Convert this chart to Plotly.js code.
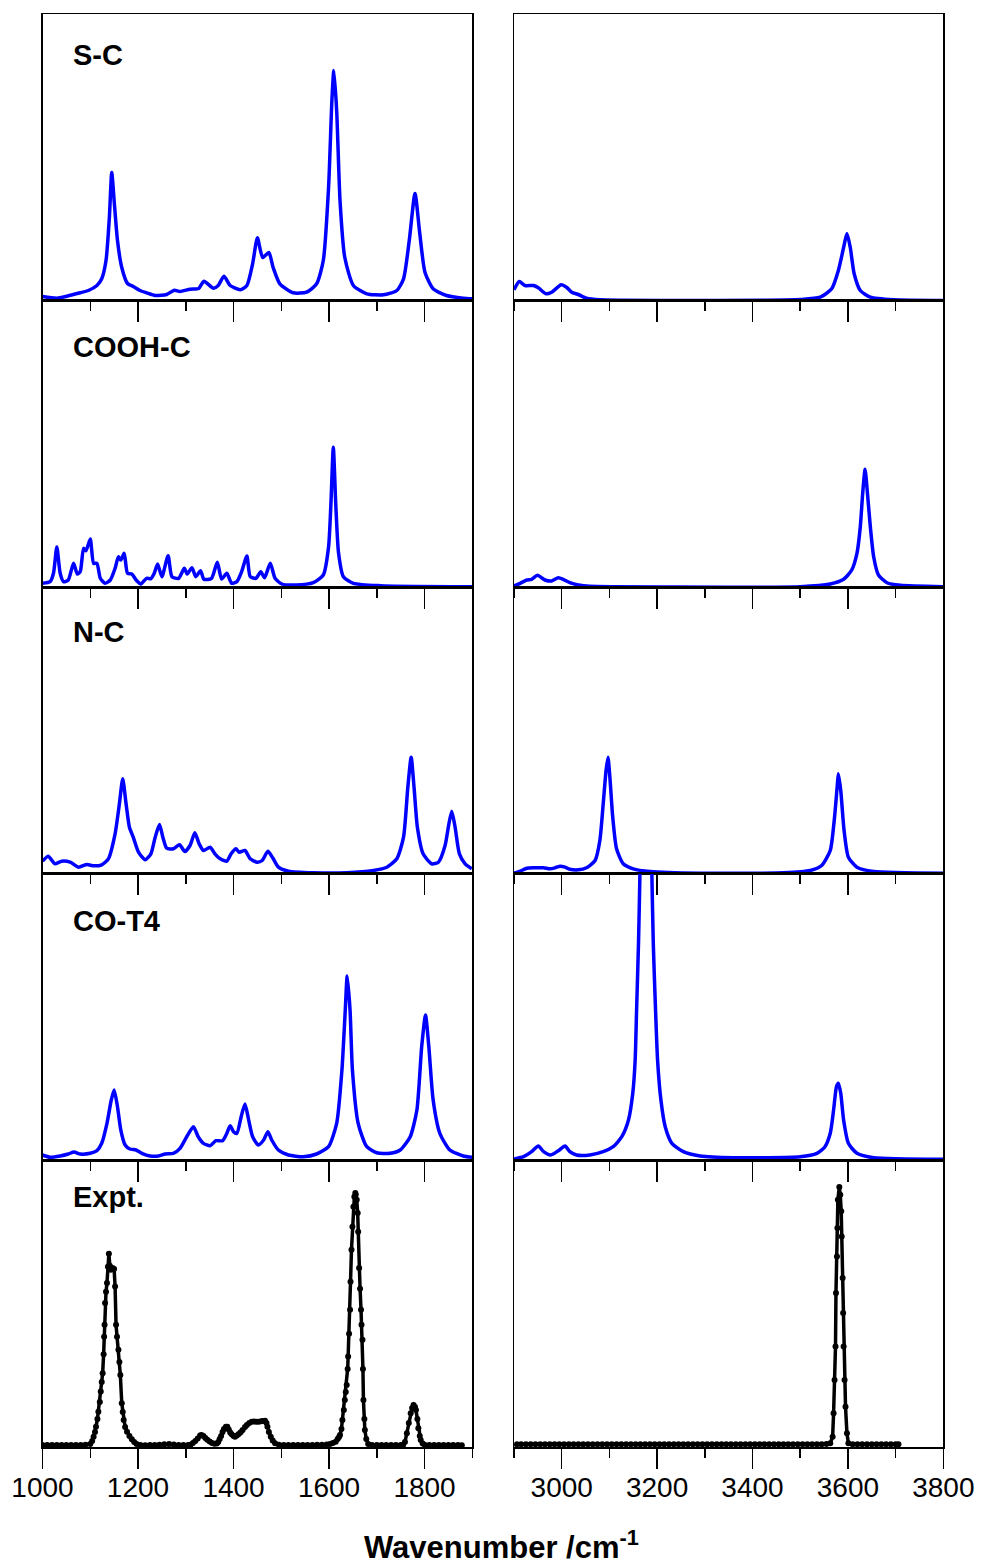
<!DOCTYPE html>
<html>
<head>
<meta charset="utf-8">
<script src="https://cdn.plot.ly/plotly-3.0.1.min.js"></script>
<style>
html,body{margin:0;padding:0;background:#fff;}
#chart{width:993px;height:1564px;}
</style>
</head>
<body>
<div id="chart"></div>
<script>
// ---------- Data (intensity in arbitrary units) ----------
const panelLabels = ["S-C", "COOH-C", "N-C", "CO-T4", "Expt."];
const leftTicks = [1000, 1200, 1400, 1600, 1800];
const rightTicks = [3000, 3200, 3400, 3600, 3800];
const axisTitle = "Wavenumber /cm<sup>-1</sup>";

// S-C
const scLeftX = [1000,1030,1051,1079,1096,1114,1124,1133,1140,1145,1150,1157,1166,1178,1190,1204,1218,1236,1260,1276,1288,1309,1327,1338,1358,1368,1380,1393,1414,1428,1440,1450,1461,1474,1483,1497,1525,1553,1574,1588,1599,1606,1610,1616,1623,1633,1651,1679,1714,1742,1756,1768,1780,1790,1801,1818,1846,1881,1900];
const scLeftY = [4,2.3,4.3,7.7,10,15,21.7,40,83,128,100,60,33,17,14,10,7.7,5,6,10.3,9,11.3,12,19.3,12.3,15,24.3,15,10.7,15,36.7,62.7,43,48,33,16.7,7.7,8.3,16.7,40,113,200,230,190,100,43,15,6.7,5.7,10,21.7,60,107,67,28,11.7,5,2.3,1.7];
const scRightX = [2900,2911,2923,2941,2951,2967,2979,2999,3010,3021,3035,3052,3080,3220,3430,3500,3542,3566,3580,3591,3598,3605,3613,3626,3647,3696,3800];
const scRightY = [10.7,19,15,15,12.7,6.7,8.3,15.7,13.3,8.3,6,2.3,0.7,0,0.3,1,3.3,11.7,30,53,67,53,27,10,3.3,0.7,0];

// COOH-C
const coohLeftX = [1000,1016,1023,1030,1037,1044,1054,1065,1073,1079,1086,1091,1100,1107,1114,1121,1131,1142,1152,1159,1164,1171,1178,1187,1196,1206,1218,1227,1234,1241,1250,1263,1271,1285,1297,1303,1313,1321,1331,1338,1354,1366,1375,1386,1396,1407,1417,1428,1435,1447,1457,1465,1477,1487,1501,1532,1567,1588,1599,1604,1609,1614,1620,1630,1651,1707,1900];
const coohLeftY = [3.7,5.3,13.7,40,13.7,5.3,7,23.7,13,15.3,38.7,36.3,48,23.7,23.7,8.7,3.7,7,18.7,30.3,27,33.7,13.7,13,7,3,8.7,8.3,13.7,23,10.3,31.3,10.3,8.7,18.7,13,19.3,10.3,16.3,7.7,8.7,24.7,8,13.7,3.7,5.3,15.3,31,10.3,8.7,15.3,9.3,23.7,8.7,3,2,4.3,12,40,83.7,139.7,83.7,33.7,10.3,3.7,1.3,0.3];
const coohRightX = [2900,2913,2927,2937,2949,2965,2979,2993,3003,3017,3035,3059,3220,3500,3563,3591,3608,3619,3626,3631,3636,3641,3647,3654,3664,3682,3710,3800];
const coohRightY = [1,3.7,7,7.7,11.7,7,6,9.3,7.7,4.3,2,0.7,0,0.3,3,7.7,17,33.7,60.3,93.7,117.7,93.7,60.3,30.3,12,4.3,1.7,0.3];

// N-C
const ncLeftX = [1000,1012,1026,1040,1058,1075,1093,1107,1124,1138,1152,1161,1168,1175,1182,1190,1201,1215,1227,1236,1245,1252,1260,1274,1287,1298,1309,1319,1328,1337,1351,1361,1372,1386,1395,1405,1412,1424,1435,1449,1460,1472,1482,1494,1515,1567,1637,1693,1721,1742,1756,1765,1772,1778,1785,1797,1815,1829,1843,1851,1857,1864,1873,1885,1899];
const ncLeftY = [12.3,17.3,9.7,12.3,11.3,6.3,9,7.7,8.7,14.7,39.7,69.7,94.7,69.7,46.3,36.3,21.3,13.7,19.7,36.3,49,36.3,25.3,24.7,28.7,22,28,40.7,29.7,23,26.3,19.7,14.7,12.3,19.7,24.7,21.3,23,14.7,11.3,13,22.3,15.7,6.3,2.3,0.7,0.7,3,6.3,14.7,36.3,86.3,116.3,86.3,46.3,19.7,9.7,11.3,28,49.7,62.3,46.3,19.7,9.7,4.7];
const ncRightX = [2900,2913,2927,2941,2962,2976,2986,2997,3007,3017,3035,3052,3070,3080,3087,3093,3097,3101,3107,3115,3129,3150,3185,3290,3465,3521,3545,3563,3572,3578,3580,3585,3592,3601,3619,3654,3800];
const ncRightY = [0.3,2.3,5.3,5.7,5.7,4.7,5.7,7.3,6.3,4.3,3.7,5.7,13,33,69.7,103,116.3,96.3,56.3,24.7,9.7,4.7,2,0.3,0.7,3,8,23,56.3,89.7,99.7,83,43,16.3,6.3,2,0.3];

// CO-T4
const cot4LeftX = [1000,1016,1037,1054,1066,1079,1100,1114,1124,1135,1144,1150,1157,1164,1173,1183,1196,1208,1225,1243,1257,1274,1288,1302,1316,1326,1337,1351,1363,1377,1386,1393,1400,1407,1416,1424,1431,1440,1452,1463,1472,1480,1494,1515,1546,1574,1599,1616,1627,1634,1638,1644,1649,1661,1679,1700,1728,1749,1770,1784,1794,1802,1809,1818,1832,1853,1881,1900];
const cot4LeftY = [5,2.7,4,6,8,6,6.7,9.3,16.7,36.7,60,70,53.3,30,15,11,10,6.7,4,4,6,6.7,11.7,23.3,33.3,23.3,16.7,14.3,19.3,19.3,26.7,34.3,28.3,26.7,43.3,56,41.7,23.3,15,20,28.3,20,10,5,3.3,6,13.3,36.7,90,150,184,150,90,36.7,13.3,7.3,6.7,10,23.3,50,113.3,145,113.3,60,26.7,10,4,2.7];
// the 3176 band is off-scale (clipped at the panel top)
const cot4RightX = [2900,2920,2937,2951,2962,2977,2993,3007,3017,3031,3059,3087,3108,3126,3140,3149,3154,3157,3161,3164,3168,3176,3184,3189,3192,3196,3201,3208,3217,3231,3255,3290,3360,3500,3535,3552,3563,3570,3576,3580,3585,3591,3601,3619,3654,3800];
const cot4RightY = [1,3.3,8.3,14,8.3,5,9.3,14,8.3,5,5,8.3,13.3,23.3,40,66.7,100,150,216.7,286.7,420,600,420,286.7,216.7,160,100,60,33.3,16.7,8.3,4,2.3,3.3,6.7,13.3,26.7,50,73.3,76.7,66.7,40,16.7,6.7,2.3,0.7];

// Expt.
const exptLeftX = [1000,1010,1020,1030,1040,1050,1060,1070,1080,1090,1100,1104,1107,1110,1112,1115,1117,1120,1122,1124,1126,1128,1129,1130,1131,1133,1135,1137,1139,1141,1143,1145,1147,1150,1152,1154,1156,1159,1161,1163,1166,1168,1170,1173,1177,1182,1187,1192,1197,1205,1215,1225,1235,1245,1255,1265,1275,1285,1295,1305,1310,1315,1320,1325,1330,1333,1337,1341,1345,1350,1355,1360,1365,1368,1371,1374,1377,1380,1384,1387,1390,1393,1396,1400,1403,1407,1411,1415,1419,1424,1428,1433,1438,1443,1448,1453,1458,1462,1466,1469,1471,1474,1478,1482,1487,1495,1505,1515,1525,1535,1545,1555,1565,1575,1585,1595,1602,1608,1614,1618,1621,1623,1626,1628,1631,1633,1635,1637,1639,1640,1642,1644,1645,1647,1649,1651,1653,1655,1656,1658,1660,1661,1663,1665,1667,1668,1670,1671,1672,1674,1675,1678,1682,1690,1700,1710,1720,1730,1740,1750,1755,1759,1763,1767,1771,1774,1777,1780,1782,1785,1787,1790,1792,1796,1801,1810,1820,1830,1840,1850,1860,1870,1878];
const exptLeftY = [2,2,2,2,2,2,2,2,2,2.3,3,6,10.3,15,20.3,28,35.3,45,55.3,65,73.7,92.7,110,122,143.7,155,163.7,180,193,181,177,178,178.7,177.7,160.3,122,110,97,85,72,43.7,35,27,20,15.3,11,7.7,5,3,2,1.7,2,2,2.3,2.7,3,2.5,2,2,2,2.3,4,6,8.5,11.5,12,11,9,7.3,5.5,4,3.3,3.5,5,8,11,15,18,20.3,20.3,17.5,14.5,12.7,11,10.3,11.5,13,14.7,17,20,22,24,25.3,25.5,25.3,25.3,25.6,26,26.3,24,20.3,15,10.3,6.5,3.7,2.3,2,2,2,2,2,2,2,2.2,2.3,2.5,3,4,5.3,8,10,12,18,27,37,47,55,62,78,90.3,113,137,165,197,220,240,250,253.7,252,247,233.7,215,178.7,158,137,122,107,78,47,28,17,8,3,2,2,2,2,2,2,2,2,5,13.7,24,33.7,39,42,40,37,28,18.7,11,7,3.5,2,2,2,2,2,2,2,2,1.7];
const exptRightX = [2906,2915,2925,2935,2945,2955,2965,2975,2985,2995,3005,3015,3025,3035,3045,3055,3065,3075,3085,3095,3105,3115,3125,3135,3145,3155,3165,3175,3185,3195,3205,3215,3225,3235,3245,3255,3265,3275,3285,3295,3305,3315,3325,3335,3345,3355,3365,3375,3385,3395,3405,3415,3425,3435,3445,3455,3465,3475,3485,3495,3505,3515,3525,3535,3545,3555,3563,3568,3570,3572,3574,3575,3577,3578,3579,3582,3584,3586,3587,3589,3590,3591,3593,3595,3598,3601,3610,3620,3630,3640,3650,3660,3670,3680,3690,3700,3706];
const exptRightY = [2.7,2.7,2.7,2.7,2.7,2.7,2.7,2.7,2.7,2.7,2.7,2.7,2.7,2.7,2.7,2.7,2.7,2.7,2.7,2.7,2.7,2.7,2.7,2.7,2.7,2.7,2.7,2.7,2.7,2.7,2.7,2.7,2.7,2.7,2.7,2.7,2.7,2.7,2.7,2.7,2.7,2.7,2.7,2.7,2.7,2.7,2.7,2.7,2.7,2.7,2.7,2.7,2.7,2.7,2.7,2.7,2.7,2.7,2.7,2.7,2.7,2.7,2.7,2.7,2.7,3,3.7,10.3,33.7,67,100.3,153.7,190.3,218.7,247,259.7,252,235.3,210.3,168.7,133.7,100.3,67,40.3,13.7,3.7,2.7,2.7,2.7,2.7,2.7,2.7,2.7,2.7,2.7,2.7,2.7];

// ---------- Build ----------
const W = 993, H = 1564;
const rowsPx = [[14,300.5],[300.5,587],[587,873.5],[873.5,1160],[1160,1447]];
const leftDom = [42.5/W, 472.3/W];
const rightDom = [514/W, 943.3/W];
const yTop = 286.6;

const series = [
  [scLeftX, scLeftY, scRightX, scRightY],
  [coohLeftX, coohLeftY, coohRightX, coohRightY],
  [ncLeftX, ncLeftY, ncRightX, ncRightY],
  [cot4LeftX, cot4LeftY, cot4RightX, cot4RightY],
  [exptLeftX, exptLeftY, exptRightX, exptRightY]
];

const traces = [];
const layout = {
  width: W, height: H,
  margin: {l:0, r:0, t:0, b:0},
  paper_bgcolor: '#fff',
  plot_bgcolor: 'rgba(0,0,0,0)',
  showlegend: false,
  font: {family: 'Liberation Sans, Arial, sans-serif', color: '#000', size: 28},
  annotations: []
};

function xAxis(dom, range, ticks, anchor, showLabels) {
  return {
    domain: dom, range: range, anchor: anchor,
    showline: true, linecolor: '#000', linewidth: 1.5, mirror: true,
    showgrid: false, zeroline: false,
    ticks: 'outside', ticklen: 20, tickwidth: 1.5, tickcolor: '#000',
    tickmode: 'array', tickvals: ticks, ticktext: ticks.map(String),
    showticklabels: showLabels,
    ticklabelstandoff: -5,
    tickfont: {family: 'Liberation Sans, Arial, sans-serif', size: 28, color: '#000'},
    minor: {dtick: 100, tick0: 0, ticks: 'outside', ticklen: 9, tickwidth: 1.5, tickcolor: '#000', showgrid: false},
    fixedrange: true
  };
}
function yAxis(dom, anchor) {
  return {
    domain: dom, range: [0, yTop], anchor: anchor,
    showline: true, linecolor: '#000', linewidth: 1.5, mirror: true,
    showgrid: false, zeroline: false, ticks: '', showticklabels: false,
    fixedrange: true
  };
}

for (let r = 0; r < 5; r++) {
  const [top, bot] = rowsPx[r];
  const ydom = [(H - bot)/H, (H - top)/H];
  const iL = 2*r + 1, iR = 2*r + 2;
  const xl = 'x' + (iL === 1 ? '' : iL), yl = 'y' + (iL === 1 ? '' : iL);
  const xr = 'x' + iR, yr = 'y' + iR;
  const last = (r === 4);
  layout['xaxis' + (iL === 1 ? '' : iL)] = xAxis(leftDom, [1000, 1900], leftTicks, yl, last);
  layout['yaxis' + (iL === 1 ? '' : iL)] = yAxis(ydom, xl);
  layout['xaxis' + iR] = xAxis(rightDom, [2900, 3800], rightTicks, yr, last);
  layout['yaxis' + iR] = yAxis(ydom, xr);

  const [lx, ly, rx, ry] = series[r];
  const isExpt = last;
  const base = isExpt
    ? {mode: 'lines+markers', line: {color: '#000', width: 3.5}, marker: {color: '#000', size: 6, symbol: 'circle'}}
    : {mode: 'lines', line: {color: '#0000ff', width: 3.5, shape: 'spline', smoothing: 0.6}};
  traces.push(Object.assign({type: 'scatter', x: lx, y: ly, xaxis: xl, yaxis: yl, hoverinfo: 'skip'}, JSON.parse(JSON.stringify(base))));
  traces.push(Object.assign({type: 'scatter', x: rx, y: ry, xaxis: xr, yaxis: yr, hoverinfo: 'skip'}, JSON.parse(JSON.stringify(base))));

  const labelY = [55, 347, 632, 921, 1197][r];
  layout.annotations.push({
    xref: 'paper', yref: 'paper', x: 71/W, y: (H - labelY)/H,
    xanchor: 'left', yanchor: 'middle', showarrow: false,
    text: '<b>' + panelLabels[r] + '</b>',
    font: {family: 'Liberation Sans, Arial, sans-serif', size: 29, color: '#000'}
  });
}

layout.annotations.push({
  xref: 'paper', yref: 'paper', x: 501/W, y: (H - 1545)/H,
  xanchor: 'center', yanchor: 'middle', showarrow: false,
  text: '<b>' + axisTitle + '</b>',
  font: {family: 'Liberation Sans, Arial, sans-serif', size: 31, color: '#000'}
});

Plotly.newPlot('chart', traces, layout, {staticPlot: true, displayModeBar: false});
</script>
</body>
</html>
